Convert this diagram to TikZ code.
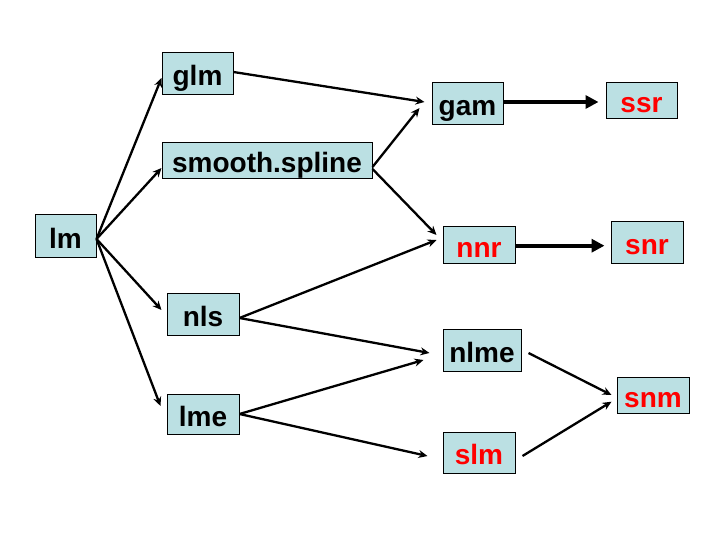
\documentclass[tikz,border=0pt]{standalone}
\usepackage{fontspec}
\setmainfont{Liberation Sans}
\usetikzlibrary{arrows.meta}
\definecolor{boxfill}{RGB}{187,224,227}
\definecolor{redtxt}{RGB}{255,0,0}
\tikzset{
  box/.style={draw=black, line width=1pt, fill=boxfill, inner sep=2pt,
    text height=25pt, text depth=1pt, align=center,
    font=\fontsize{28}{30}\selectfont\bfseries},
  redbox/.style={box, text=redtxt},
  thin/.style={line width=2.3pt, -{Stealth[length=9pt,width=8pt]}},
  thick/.style={line width=4pt, -{Triangle[length=13pt,width=13pt]}}
}
\begin{document}
\begin{tikzpicture}[x=1pt,y=-1pt]
\useasboundingbox (0,0) rectangle (720,540);
\node[box, minimum width=61pt, minimum height=42pt] (lm) at (65.5,236) {lm};
\node[box, minimum width=71pt, minimum height=42pt] (glm) at (197.5,74) {glm};
\node[box, minimum width=210pt, minimum height=36pt] (smooth) at (267,161) {smooth.spline};
\node[box, minimum width=72pt, minimum height=42pt] (nls) at (203,314) {nls};
\node[box, minimum width=72pt, minimum height=40pt] (lme) at (203,414) {lme};
\node[box, minimum width=71pt, minimum height=42pt] (gam) at (467.5,104) {gam};
\node[redbox, minimum width=71pt, minimum height=36pt] (ssr) at (641.5,101) {ssr};
\node[redbox, minimum width=72pt, minimum height=36pt] (nnr) at (479,245) {nnr};
\node[redbox, minimum width=72pt, minimum height=41pt] (snr) at (647,242.5) {snr};
\node[box, minimum width=78pt, minimum height=42pt] (nlme) at (482,350) {nlme};
\node[redbox, minimum width=72pt, minimum height=41pt] (slm) at (479,452.5) {slm};
\node[redbox, minimum width=72pt, minimum height=36pt] (snm) at (653,395) {snm};

\draw[thin] ([yshift=-3pt]lm.east) -- ([yshift=-4pt]glm.west);
\draw[thin] ([yshift=-3pt]lm.east) -- ([yshift=-7pt]smooth.west);
\draw[thin] ([yshift=-3pt]lm.east) -- ([xshift=-5pt,yshift=4pt]nls.west);
\draw[thin] ([yshift=-3pt]lm.east) -- ([xshift=-6pt,yshift=8pt]lme.west);

\draw[thin] ([yshift=2pt]glm.east) -- ([xshift=-7pt,yshift=2pt]gam.west);
\draw[thin] ([yshift=-6pt]smooth.east) -- ([xshift=-12pt,yshift=-4pt]gam.west);
\draw[thin] ([yshift=-8pt]smooth.east) -- ([xshift=-6pt,yshift=10pt]nnr.west);
\draw[thin] ([yshift=-4pt]nls.east) -- ([xshift=-6pt,yshift=5pt]nnr.west);
\draw[thin] ([yshift=-4pt]nls.east) -- ([xshift=-13pt,yshift=-3pt]nlme.west);
\draw[thin] (lme.east) -- ([xshift=-19pt,yshift=-10pt]nlme.west);
\draw[thin] (lme.east) -- ([xshift=-15pt,yshift=-3.5pt]slm.west);
\draw[thin] ([xshift=7pt,yshift=-3pt]nlme.east) -- ([xshift=-5pt]snm.west);
\draw[thin] ([xshift=7pt,yshift=-3.5pt]slm.east) -- ([xshift=-5pt,yshift=-6.7pt]snm.west);

\draw[thick] ([yshift=2pt]gam.east) -- ([xshift=-7pt,yshift=-1pt]ssr.west);
\draw[thick] ([yshift=-0.7pt]nnr.east) -- ([xshift=-6pt,yshift=-3.2pt]snr.west);
\end{tikzpicture}
\end{document}
